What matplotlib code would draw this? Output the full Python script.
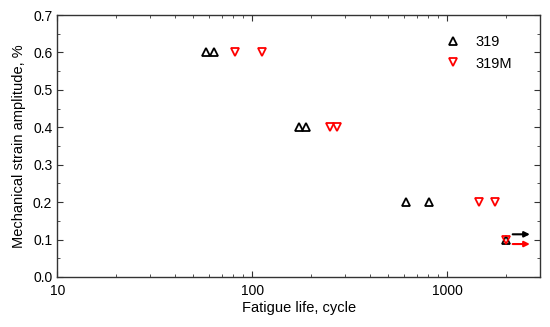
import numpy as np
import matplotlib.pyplot as plt
from matplotlib.ticker import MultipleLocator, FixedLocator, NullFormatter

plt.rcParams['font.family'] = ['Liberation Sans', 'DejaVu Sans']

# fatigue life (cycles) and strain amplitude (%)
life_319 = [58, 64, 173, 188, 619, 806, 2000]
strain_319 = [0.6, 0.6, 0.4, 0.4, 0.2, 0.2, 0.1]
life_319M = [82, 112, 250, 274, 1455, 1758, 2000]
strain_319M = [0.6, 0.6, 0.4, 0.4, 0.2, 0.2, 0.1]

# run-out points (no failure) -> arrows
runout_319 = (2000, 0.1)
runout_319M = (2000, 0.1)

fig = plt.figure(figsize=(5.5, 3.27), dpi=100)
ax = fig.add_axes([0.104, 0.153, 0.878, 0.801])

ax.plot(life_319, strain_319, linestyle='none', marker='^', markersize=6,
        markerfacecolor='none', markeredgecolor='black', markeredgewidth=1.3,
        label='319')
ax.plot(life_319M, strain_319M, linestyle='none', marker='v', markersize=6,
        markerfacecolor='none', markeredgecolor='red', markeredgewidth=1.3,
        label='319M')

# arrows for run-outs
for (x, y), dy, c in [(runout_319, 0.014, 'black'), (runout_319M, -0.012, 'red')]:
    ax.annotate('', xy=(x * 1.33, y + dy), xytext=(x * 1.085, y + dy),
                arrowprops=dict(arrowstyle='-|>', color=c, lw=1.5,
                                mutation_scale=8, shrinkA=0, shrinkB=0))

ax.set_xscale('log')
ax.set_xlim(10, 3000)
ax.set_ylim(0, 0.7)
ax.yaxis.set_major_locator(MultipleLocator(0.1))
ax.yaxis.set_minor_locator(MultipleLocator(0.05))
ax.xaxis.set_major_locator(FixedLocator([10, 100, 1000]))
ax.set_xticklabels(['10', '100', '1000'])
ax.xaxis.set_minor_formatter(NullFormatter())

ax.tick_params(which='both', direction='in', top=True, right=True,
               labelsize=10, color='#333333')
ax.tick_params(which='major', length=4)
ax.tick_params(which='minor', length=2.5)
ax.tick_params(axis='x', pad=5)
for s in ax.spines.values():
    s.set_color('#333333')
    s.set_linewidth(1.0)

ax.set_xlabel('Fatigue life, cycle', fontsize=10.5, labelpad=2)
ax.set_ylabel('Mechanical strain amplitude, %', fontsize=10.5, labelpad=5)

ax.legend(loc='upper right', frameon=False, fontsize=10.5, handletextpad=0.7,
          handlelength=1.8, borderaxespad=0.0, bbox_to_anchor=(0.955, 0.945),
          labelspacing=0.5)

fig.savefig('out.png', dpi=100)
